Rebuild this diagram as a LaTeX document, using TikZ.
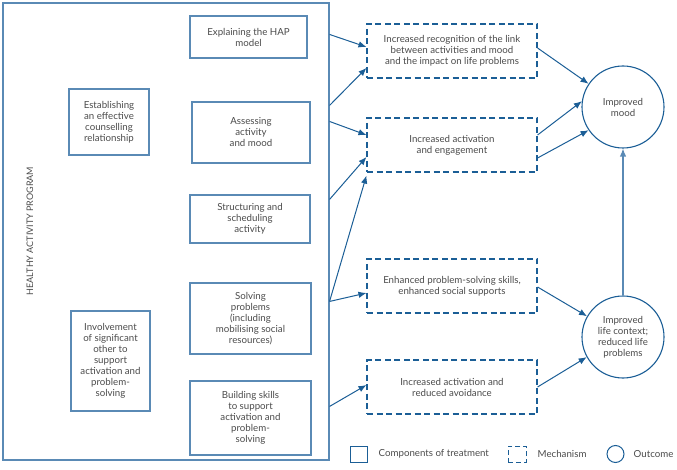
\documentclass[tikz,border=0pt]{standalone}
\usepackage{fontspec}
\setmainfont{Lato}
\usetikzlibrary{arrows.meta,calc,positioning}
\definecolor{boxblue}{RGB}{90,138,181}
\definecolor{arrblue}{RGB}{27,94,150}
\definecolor{txtgrey}{RGB}{75,75,75}
\tikzset{
  comp/.style={draw=boxblue, line width=1.1pt, align=center, inner sep=2pt,
    font=\fontsize{9.7}{11}\selectfont, text=txtgrey},
  mech/.style={draw=arrblue, line width=1.1pt, dash pattern=on 6pt off 3.5pt,
    minimum width=170pt, minimum height=54pt, align=center,
    font=\fontsize{9.7}{11}\selectfont, text=txtgrey},
  outc/.style={draw=arrblue, line width=1.1pt, circle, minimum size=82pt,
    align=center, inner sep=0pt, font=\fontsize{9.7}{11}\selectfont, text=txtgrey},
  arr/.style={draw=arrblue, line width=1pt, -{Latex[length=8pt,width=6.5pt]}},
  legtext/.style={font=\fontsize{9.7}{11}\selectfont, text=txtgrey, inner sep=0pt, anchor=west}
}
\begin{document}
\begin{tikzpicture}[x=1pt,y=-1pt]
\useasboundingbox (0,0) rectangle (677,470);
% Programm:
\node[comp, minimum width=326pt, minimum height=457pt] (prog) at (166,231.5) {};
\node[rotate=90, font=\fontsize{9}{10}\selectfont, text=txtgrey] (progtitle) at (30,231) {HEALTHY ACTIVITY PROGRAM};
% Komponenten:
\node[comp, minimum width=117pt, minimum height=42pt] (expl) at (248.5,37) {Explaining the HAP\\model};
\node[comp, minimum width=80pt, minimum height=66pt] (estab) at (109,122) {Establishing\\an effective\\counselling\\relationship};
\node[comp, minimum width=118pt, minimum height=61pt] (assess) at (251,132.5) {Assessing\\activity\\and mood};
\node[comp, minimum width=120pt, minimum height=48pt] (struct) at (250,219) {Structuring and\\scheduling\\activity};
\node[comp, minimum width=121pt, minimum height=71pt] (solve) at (250.5,318.5) {Solving\\problems\\(including\\mobilising social\\resources)};
\node[comp, minimum width=79pt, minimum height=100pt] (involve) at (110.5,361) {Involvement\\of significant\\other to\\support\\activation and\\problem-\\solving};
\node[comp, minimum width=121pt, minimum height=74pt] (build) at (250.5,418) {Building skills\\to support\\activation and\\problem-\\solving};
% Mechanismen:
\node[mech] (recog) at (452,51) {Increased recognition of the link\\between activities and mood\\and the impact on life problems};
\node[mech] (engage) at (452,145) {Increased activation\\and engagement};
\node[mech] (skills) at (452,286) {Enhanced problem-solving skills,\\enhanced social supports};
\node[mech] (avoid) at (452,387) {Increased activation and\\reduced avoidance};
% Ergebnisse:
\node[outc] (mood) at (623,107) {Improved\\mood};
\node[outc] (life) at (623,337) {Improved\\life context;\\reduced life\\problems};
% Pfeile links:
\draw[arr] ($(prog.north east)+(0,32)$) -- ($(recog.west)+(0,-4)$);
\draw[arr] ($(prog.north east)+(0,103)$) -- ($(recog.west)+(0,17)$);
\draw[arr] ($(prog.north east)+(0,119)$) -- ($(engage.west)+(0,-10)$);
\draw[arr] ($(prog.north east)+(0,197)$) -- ($(engage.west)+(0,12)$);
\draw[arr] ($(prog.north east)+(0,299)$) -- ($(engage.south west)+(0,3)$);
\draw[arr] ($(prog.north east)+(0,299)$) -- ($(skills.west)+(0,7)$);
\draw[arr] ($(prog.north east)+(0,404)$) -- ($(avoid.west)+(0,-2)$);
% Pfeile rechts:
\draw[arr] ($(recog.east)+(0,-3)$) -- (mood.146);
\draw[arr] ($(engage.east)+(0,-10)$) -- (mood.172);
\draw[arr] ($(engage.east)+(0,13)$) -- (mood.214);
\draw[arr] ($(skills.east)+(0,1)$) -- (life.150);
\draw[arr] (avoid.east) -- (life.209);
\draw[arr, draw=boxblue, line width=1.2pt] (life.north) -- (mood.south);
% Legende:
\node[draw=arrblue, line width=1pt, minimum width=17pt, minimum height=16pt, inner sep=0pt] (legcomp) at (358.5,454) {};
\node[legtext, right=11pt of legcomp] (legcomptext) {Components of treatment};
\node[draw=arrblue, line width=1pt, dash pattern=on 5pt off 3pt, minimum width=18pt, minimum height=16pt, inner sep=0pt] (legmech) at (517,454) {};
\node[legtext, right=11pt of legmech] (legmechtext) {Mechanism};
\node[draw=arrblue, line width=1pt, circle, minimum size=17pt, inner sep=0pt] (legout) at (615.5,454) {};
\node[legtext, right=9pt of legout] (legouttext) {Outcome};
\end{tikzpicture}
\end{document}
